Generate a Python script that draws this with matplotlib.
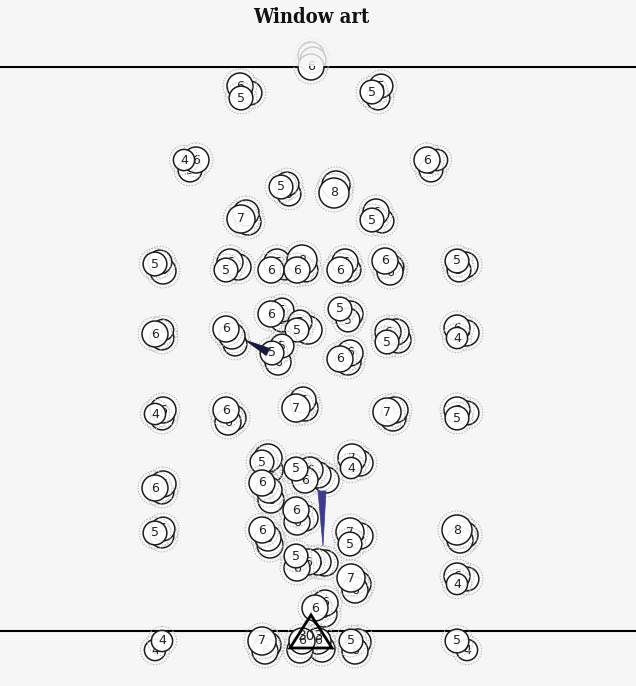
import matplotlib.pyplot as plt
from matplotlib.patches import Circle, Polygon, Rectangle

# Seats drawn back to front: x, y position on the plan and count shown in the circle
seat_x = [311, 313, 311,
          250, 240, 241, 378, 381, 372, 190, 196, 184, 431, 437, 427,
          289, 287, 281, 336, 334, 248, 246, 241, 382, 376, 372,
          163, 160, 155, 238, 230, 226, 285, 277, 271, 306, 302, 297,
          349, 345, 340, 392, 390, 385, 465, 459, 457,
          162, 163, 155, 235, 232, 226, 282, 282, 271, 308, 300, 297,
          278, 282, 272, 350, 348, 340, 348, 350, 340, 398, 396, 388, 387,
          466, 457, 457,
          162, 163, 155, 233, 228, 226, 305, 303, 296, 393, 395, 387,
          467, 457, 457,
          270, 268, 262, 271, 269, 262, 326, 318, 310, 305, 296, 360, 352, 351,
          162, 163, 155, 305, 297, 296, 162, 163, 155, 270, 268, 262,
          360, 350, 350, 465, 460, 457, 325, 318, 308, 297, 296,
          358, 355, 351, 467, 457, 457, 324, 325, 315,
          155, 162, 268, 265, 262, 322, 318, 300, 302, 358, 355, 351, 467, 457]
seat_y = [55, 60, 67,
          93, 86, 98, 98, 86, 92, 170, 160, 160, 170, 160, 160,
          194, 184, 187, 185, 193, 222, 213, 219, 221, 212, 220,
          271, 262, 264, 267, 262, 270, 268, 262, 270, 270, 260, 270,
          270, 262, 270, 267, 272, 261, 265, 270, 261,
          338, 330, 334, 344, 336, 329, 320, 310, 314, 330, 322, 330,
          362, 346, 353, 314, 320, 309, 362, 353, 359, 340, 332, 332, 342,
          333, 328, 338,
          418, 410, 414, 418, 422, 410, 408, 400, 408, 418, 410, 412,
          413, 410, 418,
          470, 458, 462, 500, 490, 483, 480, 475, 470, 480, 469, 463, 458, 468,
          492, 484, 488, 518, 522, 510, 536, 529, 533, 545, 538, 530,
          536, 532, 544, 535, 540, 530, 563, 562, 562, 568, 556,
          584, 590, 578, 579, 576, 584, 614, 603, 608,
          650, 641, 645, 651, 641, 649, 641, 650, 641, 642, 651, 641, 650, 641]
seat_n = [6, 6, 6,
          5, 6, 5, 5, 5, 5, 5, 6, 4, 5, 4, 6,
          5, 5, 5, 7, 8, 6, 6, 7, 5, 6, 5,
          6, 5, 5, 6, 6, 5, 5, 6, 6, 5, 8, 6,
          5, 6, 6, 5, 6, 6, 6, 5, 5,
          5, 4, 6, 5, 6, 6, 5, 5, 6, 7, 5, 5,
          6, 5, 5, 6, 5, 5, 6, 6, 6, 6, 6, 6, 5,
          6, 6, 4,
          5, 6, 4, 6, 6, 6, 6, 6, 7, 6, 6, 7,
          5, 6, 5,
          6, 7, 5, 6, 6, 6, 6, 6, 6, 6, 5, 6, 7, 4,
          5, 6, 6, 6, 6, 6, 5, 5, 5, 6, 6, 6,
          6, 7, 5, 6, 6, 8, 6, 6, 6, 6, 5,
          6, 6, 7, 5, 6, 4, 6, 6, 6,
          4, 4, 6, 6, 7, 6, 6, 6, 6, 6, 6, 5, 4, 5]

# Passes: start, end
pass_x0 = [245, 322]
pass_y0 = [340, 491]
pass_x1 = [268, 323]
pass_y1 = [352, 546]
pass_colors = ["#171a3c", "#3f3c8c"]

goal_x = 311
goal_y = 636
goal_label = "303"

bg = "#f7f6f7"

fig = plt.figure(figsize=(6.36, 6.86), dpi=100, facecolor=bg)
ax = fig.add_axes([0, 0, 1, 1])
ax.set_facecolor(bg)
ax.set_xlim(0, 636)
ax.set_ylim(686, 0)
ax.set_aspect("equal")
ax.axis("off")

ax.axhline(67, color="k", lw=1.5, zorder=1)
ax.axhline(631, color="k", lw=1.5, zorder=1)

z = 2
for x, y, n in zip(seat_x, seat_y, seat_n):
    r = 5.3 * n ** 0.5
    ax.add_patch(Circle((x, y), r + 4, facecolor="none", edgecolor="#b5b5b5",
                        lw=0.7, ls=(0, (1.5, 1.5)), zorder=z))
    ax.add_patch(Circle((x, y), r, facecolor="white", alpha=0.92,
                        edgecolor="none", zorder=z + 0.1))
    ax.add_patch(Circle((x, y), r, facecolor="none", edgecolor="#1e1e1e",
                        lw=1.1, zorder=z + 0.2))
    ax.text(x, y, str(n), ha="center", va="center", fontsize=9,
            color="#222222", zorder=z + 0.3)
    z += 0.5

# passes as thin wedges
for x0, y0, x1, y1, c in zip(pass_x0, pass_y0, pass_x1, pass_y1, pass_colors):
    dx, dy = x1 - x0, y1 - y0
    L = (dx ** 2 + dy ** 2) ** 0.5
    nx, ny = -dy / L * 4, dx / L * 4
    if y1 > y0 + 20:
        pts = [(x0 + nx, y0 + ny), (x0 - nx, y0 - ny), (x1, y1)]
    else:
        pts = [(x0, y0), (x1 + nx, y1 + ny), (x1 - nx, y1 - ny)]
    ax.add_patch(Polygon(pts, closed=True, facecolor=c, edgecolor=c,
                         lw=0.5, zorder=z))
z += 1

tri = [(goal_x, goal_y - 21), (goal_x - 21, goal_y + 12), (goal_x + 21, goal_y + 12)]
ax.add_patch(Polygon(tri, closed=True, facecolor="none", edgecolor="k",
                     lw=2, zorder=z))
ax.text(goal_x, goal_y, goal_label, ha="center", va="center", fontsize=10,
        color="#222222", zorder=z + 0.1)

# faded band above top line
ax.add_patch(Rectangle((0, 0), 636, 66.2, facecolor=bg, alpha=0.8,
                       edgecolor="none", zorder=z + 1))
ax.text(311, 17, "Window art", ha="center", va="center", fontsize=14.5,
        fontweight="heavy", fontstretch="condensed", family="DejaVu Serif",
        color="#111111", zorder=z + 2)

fig.savefig("out.png", dpi=100, facecolor=bg)
